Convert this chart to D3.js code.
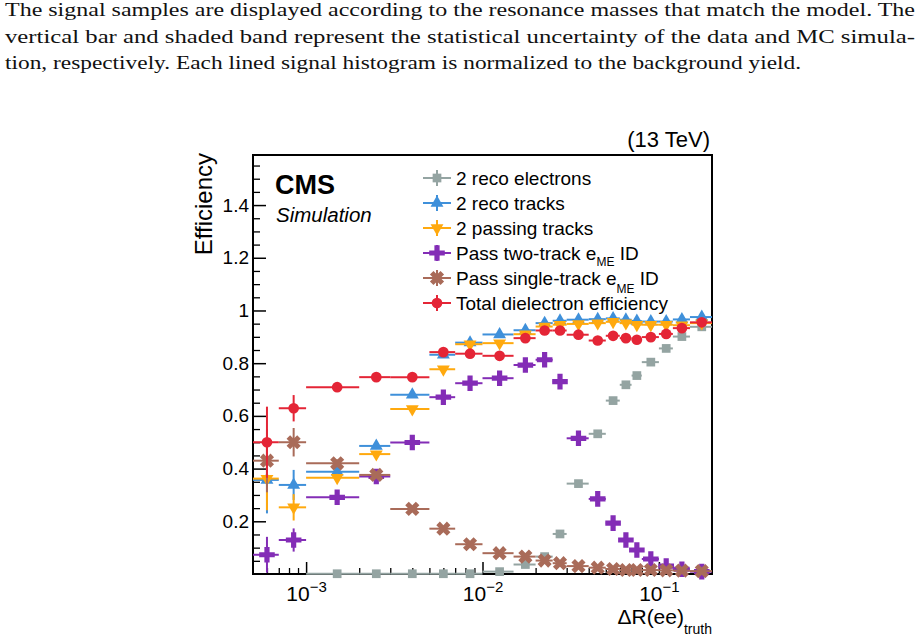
<!DOCTYPE html>
<html>
<head>
<meta charset="utf-8">
<script src="https://cdn.jsdelivr.net/npm/d3@7"></script>
<style>
  body { margin: 0; background: #fff; }
  svg { display: block; }
</style>
</head>
<body>
<div id="chart"></div>
<script>
// ---- data ----
const binEdges = [0.0005, 0.0007, 0.001, 0.002, 0.003, 0.005, 0.007, 0.01, 0.015, 0.02, 0.025,
                  0.03, 0.04, 0.05, 0.06, 0.07, 0.08, 0.1, 0.12, 0.15, 0.2];

const recoElectrons = [null, null, 0.001, 0.001, 0.001, 0.001, 0.001, 0.009, 0.036, 0.066,
                       0.152, 0.343, 0.532, 0.658, 0.718, 0.753, 0.804, 0.856, 0.901, 0.938];
const recoTracks    = [0.357, 0.338, 0.388, 0.486, 0.680, 0.832, 0.878, 0.909, 0.925, 0.952,
                       0.961, 0.965, 0.967, 0.970, 0.965, 0.960, 0.958, 0.958, 0.966, 0.975];
const passTracks    = [0.362, 0.253, 0.365, 0.455, 0.626, 0.777, 0.872, 0.876, 0.910, 0.939,
                       0.946, 0.949, 0.952, 0.957, 0.952, 0.946, 0.946, 0.946, 0.944, 0.952];
const twoTrackId    = [0.073, 0.129, 0.291, 0.370, 0.499, 0.671, 0.724, 0.743, 0.793, 0.813,
                       0.730, 0.515, 0.285, 0.193, 0.129, 0.091, 0.057, 0.030, 0.018, 0.009];
const singleTrackId = [0.430, 0.500, 0.420, 0.376, 0.247, 0.172, 0.113, 0.079, 0.066, 0.051,
                       0.041, 0.030, 0.024, 0.019, 0.015, 0.015, 0.015, 0.014, 0.013, 0.011];
const totalEff      = [0.500, 0.629, 0.709, 0.747, 0.747, 0.842, 0.836, 0.828, 0.895, 0.924,
                       0.924, 0.908, 0.886, 0.904, 0.895, 0.889, 0.899, 0.911, 0.933, 0.955];

// statistical uncertainties (vertical bars)
const errRecoElectrons = [0, 0, 0.005, 0.005, 0.005, 0.005, 0.005, 0.005, 0.008, 0.01,
                          0.01, 0.01, 0.01, 0.01, 0.01, 0.01, 0.008, 0.008, 0.006, 0.005];
const errRecoTracks    = [0.127, 0.057, 0.015, 0.012, 0.01, 0.008, 0.007, 0.006, 0.005, 0.005,
                          0.005, 0.005, 0.005, 0.005, 0.005, 0.005, 0.005, 0.005, 0.005, 0.005];
const errPassTracks    = [0.12, 0.05, 0.015, 0.012, 0.01, 0.008, 0.007, 0.006, 0.005, 0.005,
                          0.005, 0.005, 0.005, 0.005, 0.005, 0.005, 0.005, 0.005, 0.005, 0.005];
const errTwoTrackId    = [0.068, 0.044, 0.015, 0.012, 0.01, 0.01, 0.008, 0.008, 0.008, 0.008,
                          0.008, 0.01, 0.01, 0.008, 0.006, 0.005, 0.005, 0.004, 0.003, 0.003];
const errSingleTrackId = [0.12, 0.054, 0.015, 0.012, 0.01, 0.008, 0.006, 0.005, 0.005, 0.004,
                          0.004, 0.003, 0.003, 0.003, 0.003, 0.003, 0.003, 0.003, 0.003, 0.003];
const errTotalEff      = [0.135, 0.05, 0.015, 0.01, 0.01, 0.008, 0.007, 0.006, 0.005, 0.005,
                          0.005, 0.005, 0.005, 0.005, 0.005, 0.005, 0.005, 0.005, 0.005, 0.005];

const seriesNames = ["2 reco electrons", "2 reco tracks", "2 passing tracks",
                     "Pass two-track e", "Pass single-track e", "Total dielectron efficiency"];

const yMajorTicks = [0.2, 0.4, 0.6, 0.8, 1.0, 1.2, 1.4];
const xMajorTicks = [1e-3, 1e-2, 1e-1];
const xTickExponents = ["\u22123", "\u22122", "\u22121"];

const paragraph = [
  "The signal samples are displayed according to the resonance masses that match the model. The",
  "vertical bar and shaded band represent the statistical uncertainty of the data and MC simula-",
  "tion, respectively. Each lined signal histogram is normalized to the background yield."
];

// ---- setup ----
const W = 921, H = 641;
const frame = { left: 253, right: 712, top: 155, bottom: 574 };
const sans = "'Liberation Sans', Arial, Helvetica, sans-serif";

const svg = d3.select("#chart").append("svg")
  .attr("width", W).attr("height", H)
  .attr("viewBox", `0 0 ${W} ${H}`);

svg.append("rect").attr("width", W).attr("height", H).attr("fill", "#fff");

// caption text above the figure
const paraWidths = [910, 910, 796];
svg.append("g").selectAll("text")
  .data(paragraph)
  .join("text")
  .attr("x", 5)
  .attr("y", (d, i) => 16 + i * 26.5)
  .attr("textLength", (d, i) => paraWidths[i])
  .attr("lengthAdjust", "spacingAndGlyphs")
  .style("font-family", "'Liberation Serif', 'DejaVu Serif', serif")
  .style("font-size", "18.5px")
  .style("fill", "#111")
  .text(d => d);

const x = d3.scaleLog().domain([binEdges[0], binEdges[binEdges.length - 1]])
  .range([frame.left, frame.right]);
const y = d3.scaleLinear().domain([0, 1.59]).range([frame.bottom, frame.top]);

// ---- axes (ticks drawn inside the frame, ROOT style) ----
const yMinor = d3.range(0.05, 1.58, 0.05).filter(v => Math.abs(v * 5 - Math.round(v * 5)) > 1e-6);
svg.append("g")
  .attr("transform", `translate(${frame.left},0)`)
  .call(d3.axisLeft(y).tickValues(yMinor).tickSize(-7).tickFormat(""))
  .call(g => g.select(".domain").remove())
  .call(g => g.selectAll("line").attr("stroke", "#000").attr("stroke-width", 1.3));

svg.append("g")
  .attr("transform", `translate(${frame.left},0)`)
  .call(d3.axisLeft(y).tickValues(yMajorTicks).tickSize(-13).tickPadding(4)
    .tickFormat(d => d3.format("~g")(d)))
  .call(g => g.select(".domain").remove())
  .call(g => g.selectAll("line").attr("stroke", "#000").attr("stroke-width", 1.5))
  .call(g => g.selectAll("text")
    .style("font-family", sans).style("font-size", "19px").attr("fill", "#000"));

const xMinor = [];
[1e-4, 1e-3, 1e-2, 1e-1].forEach(dec => {
  for (let k = 2; k <= 9; k++) {
    const v = dec * k;
    if (v > binEdges[0] && v < 0.2 - 1e-9) xMinor.push(v);
  }
});
svg.append("g")
  .attr("transform", `translate(0,${frame.bottom})`)
  .call(d3.axisBottom(x).tickValues(xMinor).tickSize(-6).tickFormat(""))
  .call(g => g.select(".domain").remove())
  .call(g => g.selectAll("line").attr("stroke", "#000").attr("stroke-width", 1.3));

const xAxis = svg.append("g")
  .attr("transform", `translate(0,${frame.bottom})`)
  .call(d3.axisBottom(x).tickValues(xMajorTicks).tickSize(-12).tickFormat(""))
  .call(g => g.select(".domain").remove())
  .call(g => g.selectAll("line").attr("stroke", "#000").attr("stroke-width", 1.5));

xAxis.selectAll(".tick").each(function (d, i) {
  const t = d3.select(this).append("text")
    .attr("y", 27)
    .attr("text-anchor", "middle")
    .attr("fill", "#000")
    .style("font-family", sans).style("font-size", "21px");
  t.append("tspan").text("10");
  t.append("tspan").attr("dy", -9).style("font-size", "15px").text(xTickExponents[i]);
});

// frame
svg.append("rect")
  .attr("x", frame.left).attr("y", frame.top)
  .attr("width", frame.right - frame.left).attr("height", frame.bottom - frame.top)
  .attr("fill", "none").attr("stroke", "#000").attr("stroke-width", 2);

// axis titles
svg.append("text")
  .attr("transform", `translate(212,${frame.top - 2}) rotate(-90)`)
  .attr("text-anchor", "end")
  .style("font-family", sans).style("font-size", "24px")
  .text("Efficiency");

const xTitle = svg.append("text")
  .attr("x", frame.right).attr("y", 624)
  .attr("text-anchor", "end")
  .style("font-family", sans).style("font-size", "21px");
xTitle.append("tspan").text("\u0394R(ee)");
xTitle.append("tspan").attr("dy", 10).style("font-size", "14px").text("truth");

svg.append("text")
  .attr("x", 710).attr("y", 147)
  .attr("text-anchor", "end")
  .style("font-family", sans).style("font-size", "22px")
  .text("(13 TeV)");

svg.append("text")
  .attr("x", 275).attr("y", 194)
  .style("font-family", sans).style("font-size", "27px").style("font-weight", "bold")
  .text("CMS");
svg.append("text")
  .attr("x", 276).attr("y", 222)
  .style("font-family", sans).style("font-size", "20.5px").style("font-style", "italic")
  .text("Simulation");

// ---- markers ----
const markerPath = {
  square: d3.symbol(d3.symbolSquare, 76)(),
  triUp: d3.symbol(d3.symbolTriangle, 72)(),
  triDown: d3.symbol(d3.symbolTriangle, 72)(),
  cross: d3.symbol(d3.symbolCross, 135)(),
  xcross: d3.symbol(d3.symbolCross, 125)(),
  circle: d3.symbol(d3.symbolCircle, 90)()
};
const markerRotate = { triDown: 180, xcross: 45 };

const series = [
  { name: seriesNames[0], values: recoElectrons, errs: errRecoElectrons, color: "#94a4a2", marker: "square" },
  { name: seriesNames[1], values: recoTracks, errs: errRecoTracks, color: "#3f90da", marker: "triUp" },
  { name: seriesNames[2], values: passTracks, errs: errPassTracks, color: "#ffa90e", marker: "triDown" },
  { name: seriesNames[3], values: twoTrackId, errs: errTwoTrackId, color: "#832db6", marker: "cross" },
  { name: seriesNames[4], values: singleTrackId, errs: errSingleTrackId, color: "#a96b59", marker: "xcross" },
  { name: seriesNames[5], values: totalEff, errs: errTotalEff, color: "#e42536", marker: "circle" }
];

function markerTransform(mk, px, py) {
  const r = markerRotate[mk] || 0;
  return `translate(${px},${py})` + (r ? ` rotate(${r})` : "");
}

series.forEach(s => {
  const pts = s.values.map((v, i) => ({
    v, e: s.errs[i], lo: binEdges[i], hi: binEdges[i + 1], c: (binEdges[i] + binEdges[i + 1]) / 2
  })).filter(d => d.v !== null);

  const g = svg.append("g");
  g.selectAll("line.h").data(pts).join("line")
    .attr("x1", d => x(d.lo)).attr("x2", d => x(d.hi))
    .attr("y1", d => y(d.v)).attr("y2", d => y(d.v))
    .attr("stroke", s.color).attr("stroke-width", 2);
  g.selectAll("line.v").data(pts).join("line")
    .attr("x1", d => x(d.c)).attr("x2", d => x(d.c))
    .attr("y1", d => y(Math.max(0, d.v - d.e))).attr("y2", d => y(d.v + d.e))
    .attr("stroke", s.color).attr("stroke-width", 2);
  g.selectAll("path").data(pts).join("path")
    .attr("d", markerPath[s.marker])
    .attr("transform", d => markerTransform(s.marker, x(d.c), y(d.v)))
    .attr("fill", s.color);
});

// ---- legend ----
const legend = svg.append("g");
series.forEach((s, i) => {
  const cy = 178 + i * 25;
  legend.append("line").attr("x1", 423).attr("x2", 451).attr("y1", cy).attr("y2", cy)
    .attr("stroke", s.color).attr("stroke-width", 2);
  legend.append("line").attr("x1", 437).attr("x2", 437).attr("y1", cy - 8).attr("y2", cy + 8)
    .attr("stroke", s.color).attr("stroke-width", 2);
  legend.append("path").attr("d", markerPath[s.marker])
    .attr("transform", markerTransform(s.marker, 437, cy))
    .attr("fill", s.color);

  const t = legend.append("text")
    .attr("x", 456).attr("y", cy + 7)
    .style("font-family", sans).style("font-size", "19px")
    .text(s.name);
  if (i === 3 || i === 4) {
    const drop = i === 3 ? 6 : 8;
    t.append("tspan").attr("dy", drop).style("font-size", "12px").text("ME");
    t.append("tspan").attr("dy", -drop).text(" ID");
  }
});
</script>
</body>
</html>
